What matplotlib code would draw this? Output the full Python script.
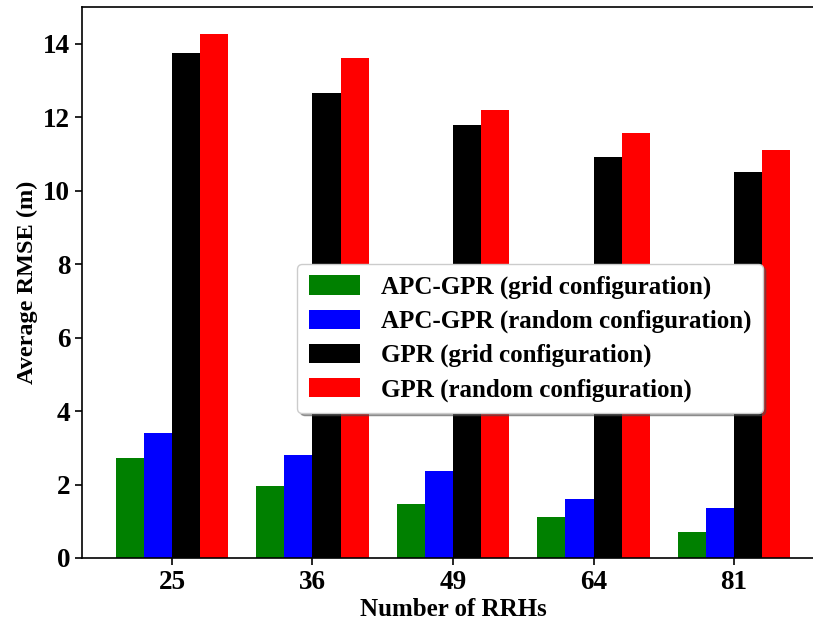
import numpy as np
import matplotlib
matplotlib.use("Agg")
import matplotlib.pyplot as plt

# Average RMSE (m) per number of RRHs
rrhs = ["25", "36", "49", "64", "81"]
apc_grid = [2.71, 1.95, 1.46, 1.11, 0.70]
apc_random = [3.39, 2.79, 2.38, 1.60, 1.35]
gpr_grid = [13.75, 12.66, 11.79, 10.92, 10.51]
gpr_random = [14.26, 13.61, 12.20, 11.57, 11.11]

series = [
    (apc_grid, "green", "APC-GPR (grid configuration)"),
    (apc_random, "blue", "APC-GPR (random configuration)"),
    (gpr_grid, "black", "GPR (grid configuration)"),
    (gpr_random, "red", "GPR (random configuration)"),
]

plt.rcParams["font.family"] = ["Liberation Serif", "DejaVu Serif"]
plt.rcParams["font.weight"] = "bold"

fig = plt.figure(figsize=(8.13, 6.24), dpi=100)
ax = fig.add_axes([0.1009, 0.1058, 0.9126, 0.883])

x = np.arange(len(rrhs))
w = 0.2
offsets = [-1.5 * w, -0.5 * w, 0.5 * w, 1.5 * w]
for (vals, col, lab), off in zip(series, offsets):
    ax.bar(x + off, vals, w, color=col, label=lab)

ax.set_xticks(x)
ax.set_xticklabels(rrhs)
ax.set_xlim(-0.64, 4.64)
ax.set_ylim(0, 15)
ax.set_yticks(np.arange(0, 15, 2))
ax.tick_params(labelsize=19.5, width=1.2, length=5)
for s in ax.spines.values():
    s.set_linewidth(1.2)
ax.set_xlabel("Number of RRHs", fontsize=18, fontweight="bold", labelpad=2)
ax.set_ylabel("Average RMSE (m)", fontsize=17.5, fontweight="bold")

ax.legend(loc="upper left", bbox_to_anchor=(0.2735, 0.556), fontsize=18,
          shadow=True, handlelength=2.05, handleheight=0.8,
          labelspacing=0.42, borderpad=0.45, handletextpad=0.85)

fig.savefig("out.png", dpi=100)
